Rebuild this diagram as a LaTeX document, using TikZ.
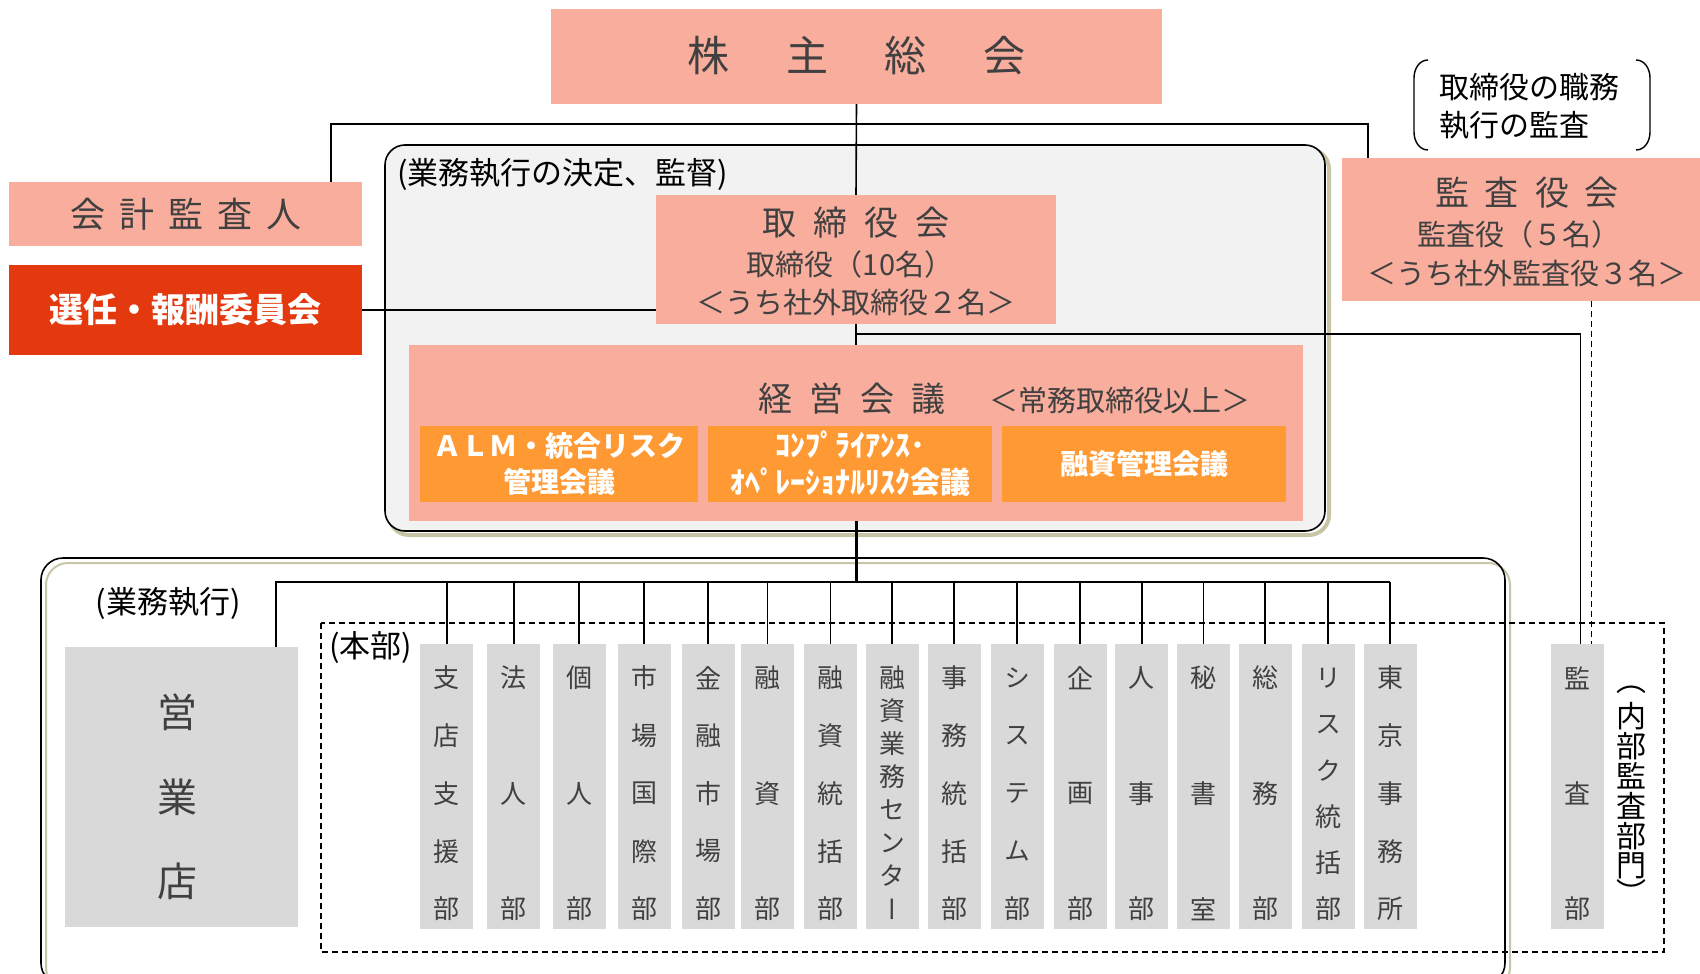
\documentclass[tikz,border=0pt]{standalone}
\usepackage{fontspec}
\setmainfont{Noto Sans CJK JP}
\newfontfamily\jpv[RawFeature=+vert]{Noto Sans CJK JP}
\usetikzlibrary{calc}
\definecolor{salmon}{HTML}{F8AD9D}
\definecolor{redbox}{HTML}{E4380F}
\definecolor{orangebox}{HTML}{FF9933}
\definecolor{greybox}{HTML}{D9D9D9}
\definecolor{panelc}{HTML}{F2F2F2}
\definecolor{txtc}{HTML}{404040}
\definecolor{shadowc}{HTML}{C8C4A6}
\newcommand\deptcol[4]{%
  \node[deptbox] (#1) at (#2,786.5) {};
  \foreach \ch [count=\i] in {#4} {
    \pgfmathsetmacro\yy{678+(\i-1)*231/(#3-1)}
    \node[depttext] (#1-\i) at (#2,\yy) {\ch};
  }
}
\begin{document}
\begin{tikzpicture}[x=1pt,y=-1pt,
  salmonbox/.style={fill=salmon, draw=none, inner sep=0pt},
  orangecell/.style={fill=orangebox, draw=none, inner sep=0pt, minimum height=76pt, text=white, font=\bfseries\fontsize{28}{36}\selectfont, align=center},
  gtext/.style={text=txtc, inner sep=0pt},
  btext/.style={text=black, inner sep=0pt},
  deptbox/.style={fill=greybox, draw=none, inner sep=0pt, minimum width=53pt, minimum height=285pt},
  depttext/.style={text=txtc, inner sep=0pt, font=\jpv\fontsize{26}{30}\selectfont},
  conn/.style={draw=black, line width=1.6pt},
]
\useasboundingbox (0,0) rectangle (1700,974);
\begin{scope}
\clip (0,0) rectangle (1700,974);
% big execution box
\draw[shadowc, line width=2pt, rounded corners=22pt] (46,563) rectangle (1510,990);
\draw[black, line width=1.6pt, rounded corners=22pt] (41,558) rectangle (1505,985);
\end{scope}

% panel
\draw[shadowc, line width=4pt, rounded corners=20pt] (389,149) rectangle (1329,535);
\draw[black, line width=1.6pt, fill=panelc, rounded corners=20pt] (385,145) rectangle (1325,531);

% top boxes
\node[salmonbox, minimum width=611pt, minimum height=95pt] (agm) at (856.5,56.5) {};
\node[gtext, font=\fontsize{42}{50}\selectfont] (agmt) at (856.5,56) {株\hspace{57pt}主\hspace{57pt}総\hspace{57pt}会};

\node[salmonbox, minimum width=353pt, minimum height=64pt] (kaikei) at (185.5,214) {};
\node[gtext, font=\fontsize{35}{42}\selectfont] (kaikeit) at (185.5,214) {会\hspace{14pt}計\hspace{14pt}監\hspace{14pt}査\hspace{14pt}人};

\node[fill=redbox, inner sep=0pt, minimum width=353pt, minimum height=90pt, text=white, font=\bfseries\fontsize{34}{40}\selectfont] (senin) at (185.5,310) {選任・報酬委員会};

\node[salmonbox, minimum width=400pt, minimum height=129pt] (board) at (856,259.5) {};
\node[gtext, font=\fontsize{34}{40}\selectfont] (boardt) at (856,223) {取\hspace{17pt}締\hspace{17pt}役\hspace{17pt}会};
\node[gtext, font=\fontsize{29}{34}\selectfont] (boardn) at (850,264) {取締役（10名）};
\node[gtext, font=\fontsize{29}{34}\selectfont] (boardo) at (856,302) {＜うち社外取締役２名＞};

\node[btext, font=\fontsize{31}{36}\selectfont, anchor=west] (panelt) at (397,175) {(業務執行の決定、監督)};

\node[salmonbox, minimum width=358pt, minimum height=143pt] (kansa) at (1521,229.5) {};
\node[gtext, font=\fontsize{34}{40}\selectfont] (kansat) at (1527,193) {監\hspace{16pt}査\hspace{16pt}役\hspace{16pt}会};
\node[gtext, font=\fontsize{29}{34}\selectfont] (kansan) at (1519,234) {監査役（５名）};
\node[gtext, font=\fontsize{29}{34}\selectfont] (kansao) at (1527,273) {＜うち社外監査役３名＞};

\node[btext, font=\fontsize{30}{38}\selectfont, align=left, anchor=west] (duty) at (1439,106) {取締役の職務\\執行の監査};
\draw[black, line width=1.4pt] (1428,60) to[out=180,in=90] (1414,78) -- (1414,132) to[out=-90,in=180] (1428,150);
\draw[black, line width=1.4pt] (1636,60) to[out=0,in=90] (1650,78) -- (1650,132) to[out=-90,in=0] (1636,150);

% management meeting
\node[salmonbox, minimum width=894pt, minimum height=176pt] (keiei) at (856,433) {};
\node[gtext, font=\fontsize{34}{40}\selectfont] (keieit) at (852,399) {経\hspace{17pt}営\hspace{17pt}会\hspace{17pt}議};
\node[gtext, font=\fontsize{29}{34}\selectfont] (keeio) at (1120,401) {＜常務取締役以上＞};
\node[orangecell, minimum width=278pt] (alm) at (559,464) {ＡＬＭ・統合リスク\\管理会議};
\node[orangecell, minimum width=284pt, font=\bfseries\fontsize{30}{37}\selectfont] (comp) at (850,464) {ｺﾝﾌﾟﾗｲｱﾝｽ･\\ｵﾍﾟﾚｰｼｮﾅﾙﾘｽｸ会議};
\node[orangecell, minimum width=284pt] (loanm) at (1144,464) {融資管理会議};

% execution area
\node[btext, font=\fontsize{31}{36}\selectfont] (exect) at (168,603) {(業務執行)};
\draw[black, line width=1.4pt, dash pattern=on 6pt off 4pt] (321,623) rectangle (1664,952);
\node[btext, font=\fontsize{31}{36}\selectfont, anchor=west] (honbu) at (329,648) {(本部)};

\node[fill=greybox, inner sep=0pt, minimum width=233pt, minimum height=280pt] (eigyo) at (181.5,787) {};
\node[gtext, font=\fontsize{40}{46}\selectfont] (eigyo1) at (177,712) {営};
\node[gtext, font=\fontsize{40}{46}\selectfont] (eigyo2) at (177,797) {業};
\node[gtext, font=\fontsize{40}{46}\selectfont] (eigyo3) at (177,881) {店};

\deptcol{d1}{446.7}{5}{支,店,支,援,部}
\deptcol{d2}{513.9}{3}{法,人,部}
\deptcol{d3}{579}{3}{個,人,部}
\deptcol{d4}{644}{5}{市,場,国,際,部}
\deptcol{d5}{708}{5}{金,融,市,場,部}
\deptcol{d6}{767.6}{3}{融,資,部}
\deptcol{d7}{830.5}{5}{融,資,統,括,部}
\deptcol{d8}{892}{8}{融,資,業,務,セ,ン,タ,ー}
\deptcol{d9}{954}{5}{事,務,統,括,部}
\deptcol{d10}{1017}{5}{シ,ス,テ,ム,部}
\deptcol{d11}{1080}{3}{企,画,部}
\deptcol{d12}{1141.7}{3}{人,事,部}
\deptcol{d13}{1203.5}{3}{秘,書,室}
\deptcol{d14}{1265}{3}{総,務,部}
\deptcol{d15}{1328}{6}{リ,ス,ク,統,括,部}
\deptcol{d16}{1390}{5}{東,京,事,務,所}
\deptcol{audit}{1577.5}{3}{監,査,部}

\foreach \ch/\yy [count=\i] in {︵/690,内/716,部/746,監/776,査/806,部/836,門/866,︶/892} {
  \node[btext, font=\jpv\fontsize{30}{32}\selectfont] (naibu-\i) at (1631,\yy) {\ch};
}

% connectors
\coordinate (topL) at (331,124);
\coordinate (topR) at (1368,124);
\draw[conn] (topL |- kaikei.north) -- (topL) -- (topR) -- (topR |- kansa.north);
\draw[conn] (agm.south) -- (board.north);
\draw[conn] (board.south) -- (keiei.north);
\draw[conn] (senin.east) -- (senin.east -| board.west);
\coordinate (auditL) at ($(audit.north)+(3,0)$);
\coordinate (auditR) at ($(audit.north)+(14,0)$);
\coordinate (brk) at (856,334);
\draw[conn] (brk) -| (auditL);
\draw[black, line width=1.4pt, dash pattern=on 6pt off 4pt] (auditR |- kansa.south) -- (auditR);
\coordinate (busL) at (276,582);
\coordinate (busR) at (1390,582);
\draw[black, line width=3pt] (keiei.south) -- (keiei.south |- busL);
\draw[conn] (busL |- eigyo.north) -- (busL) -- (busR);
\foreach \d in {d1,d2,d3,d4,d5,d6,d7,d8,d9,d10,d11,d12,d13,d14,d15,d16}
  \draw[conn] (\d.north) -- (\d.north |- busL);
\end{tikzpicture}
\end{document}
